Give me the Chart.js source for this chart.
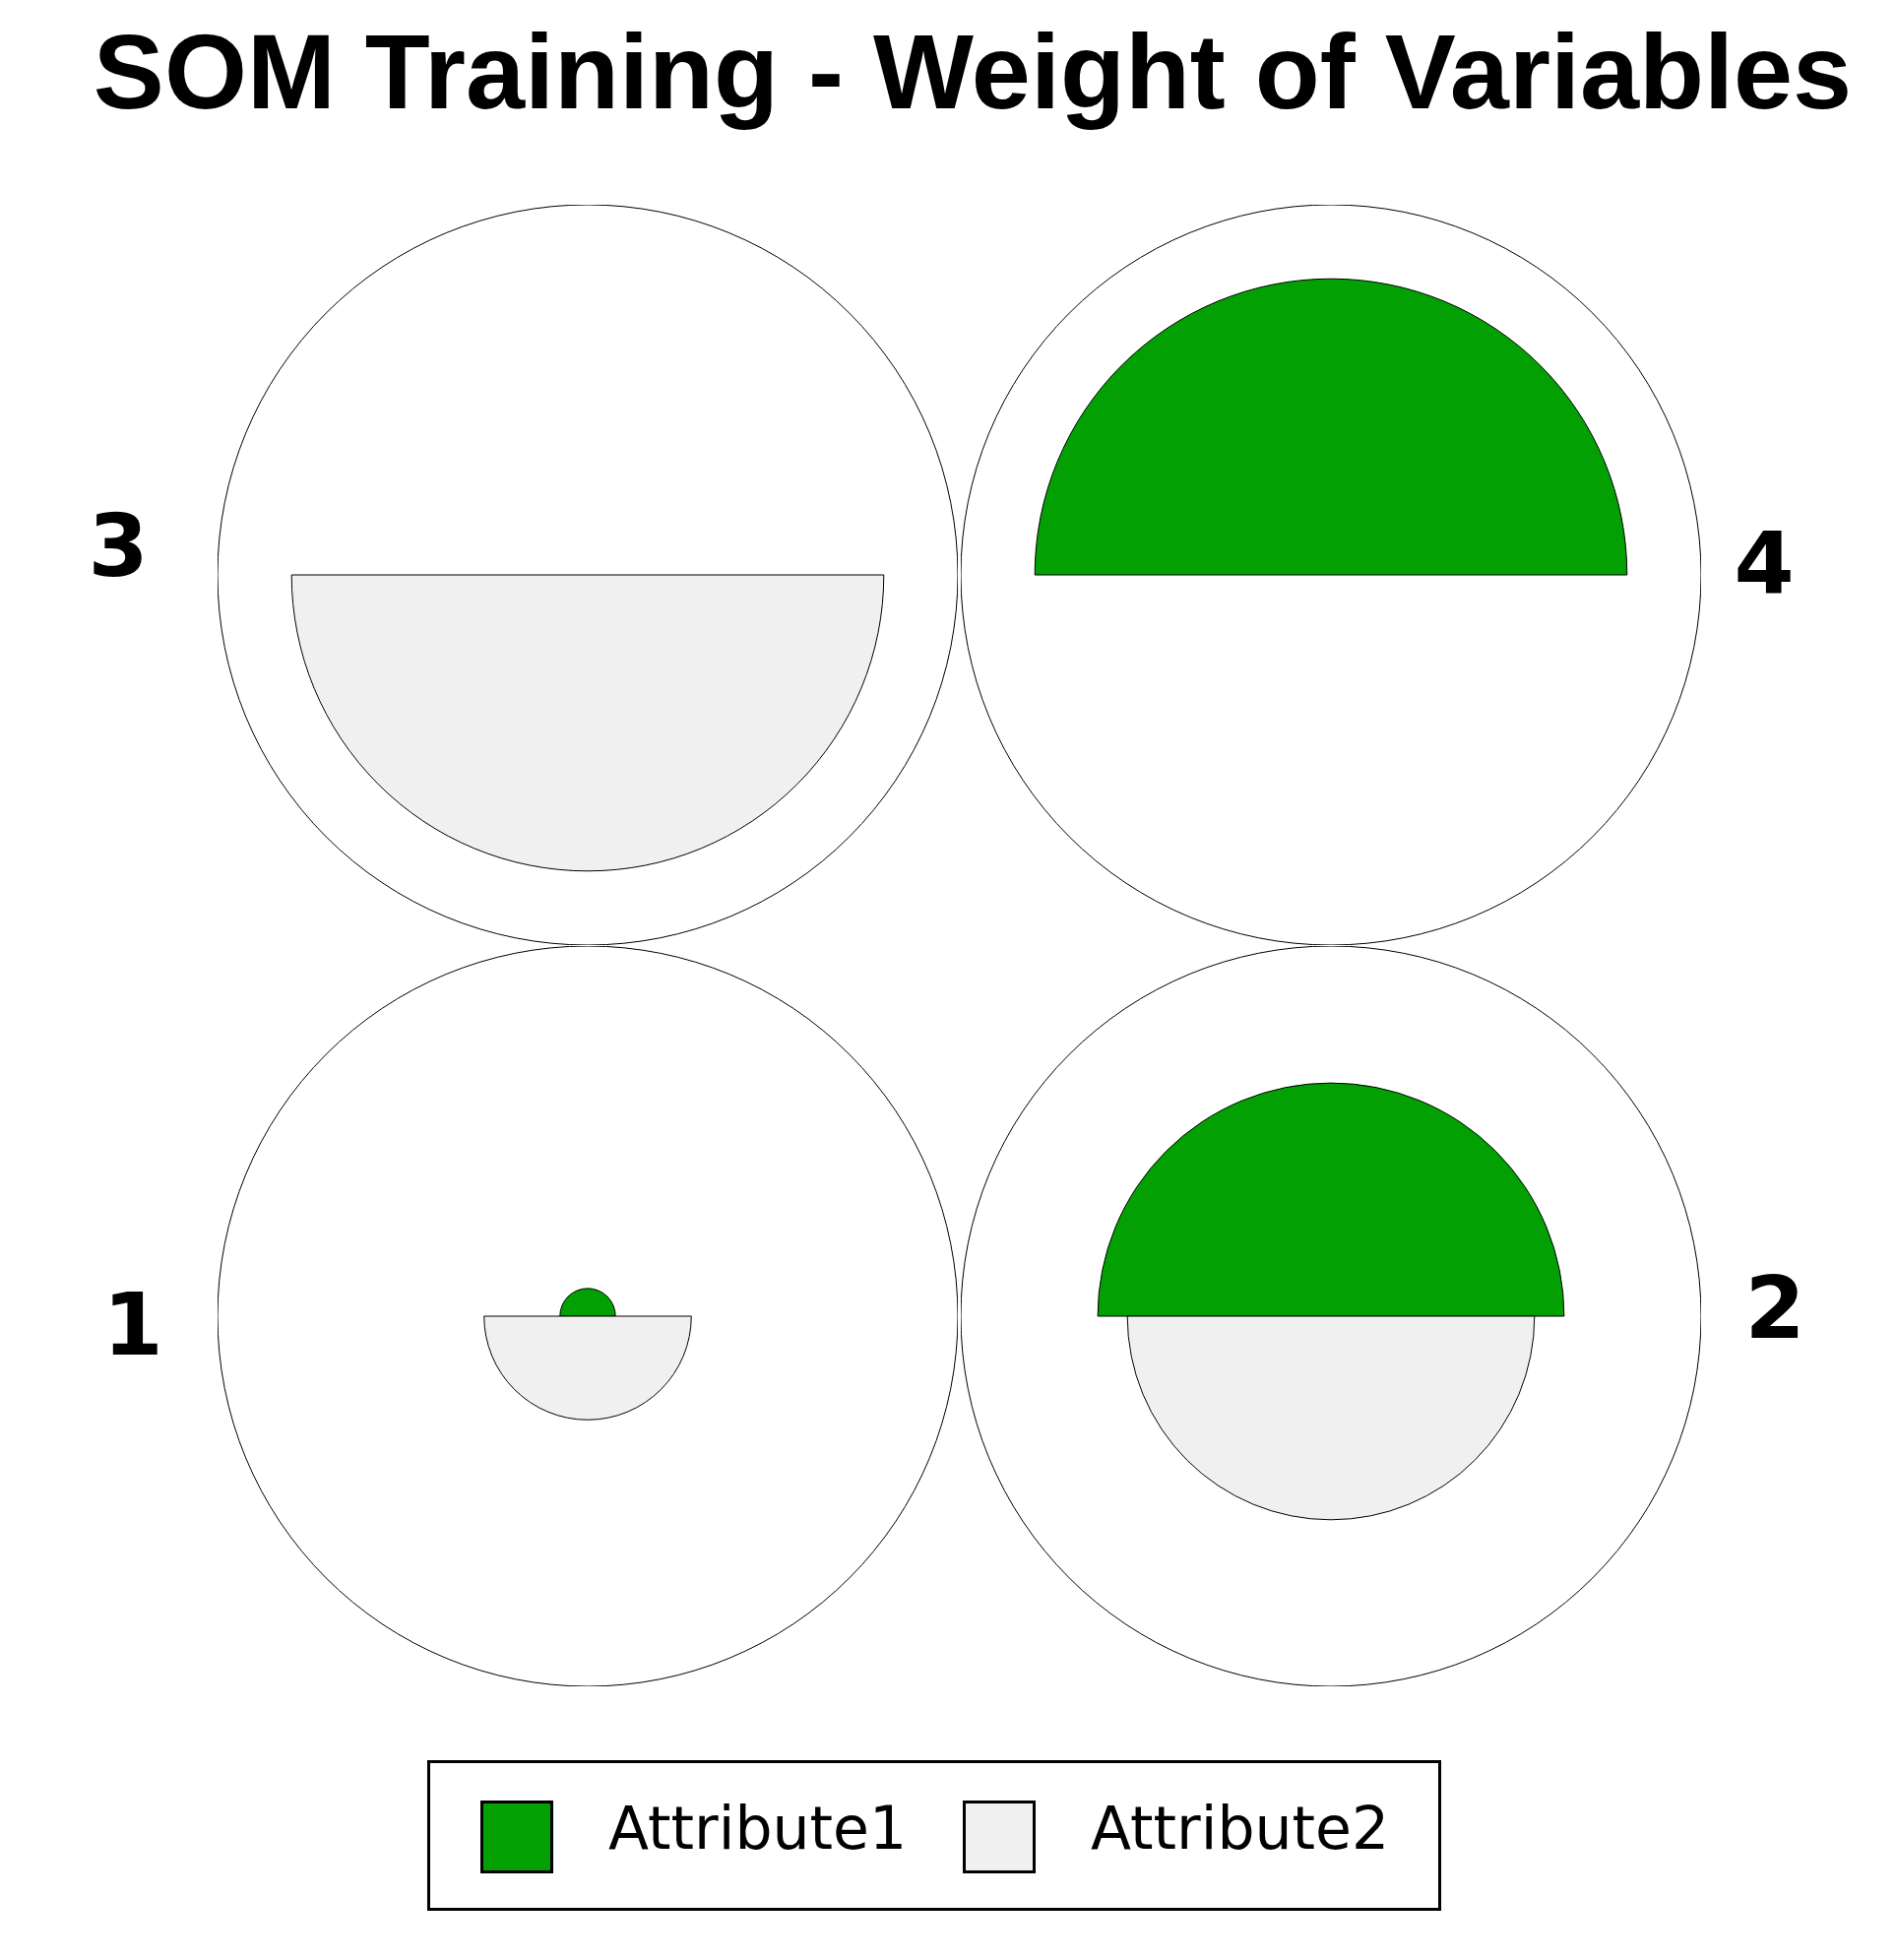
<!DOCTYPE html>
<html>
<head>
<meta charset="utf-8">
<script src="https://cdn.jsdelivr.net/npm/chart.js@4"></script>
<style>
  body { margin: 0; background: #fff; width: 1926px; height: 1991px; position: relative; overflow: hidden; }
  #title { position: absolute; left: 0; width: 1976px; top: 10px; text-align: center; font: bold 108px "Liberation Sans", Arial, sans-serif; color: #000; }
  .cell { position: absolute; width: 752px; height: 752px; }
  .num { position: absolute; font: bold 88px "DejaVu Sans", Verdana, sans-serif; color: #000; transform: translate(-50%, -50%); }
  #legend { position: absolute; left: 434px; top: 1788px; width: 1030px; height: 153px; border: 3px solid #000; box-sizing: border-box; }
  .sw { position: absolute; top: 38px; width: 74px; height: 74px; border: 3px solid #000; box-sizing: border-box; }
  .lt { position: absolute; top: 31px; font: 60px "DejaVu Sans", Verdana, sans-serif; color: #000; }
</style>
</head>
<body>
<div id="title">SOM Training - Weight of Variables</div>
<div id="legend"></div>
<script>
const attributes = ['Attribute1', 'Attribute2'];
const colors = ['#03a003', '#f0f0f0'];
const nodeIds = [1, 2, 3, 4];
// weights per node, as fraction of the node circle radius
const attribute1 = [0.075, 0.63, 0.0, 0.80];
const attribute2 = [0.28, 0.55, 0.80, 0.0];

// node layout: id -> grid position (col, row) ; row 0 = top
const nodeCol = [0, 1, 0, 1];
const nodeRow = [1, 1, 0, 0];

const centersX = [597, 1352];
const centersY = [584, 1337];
const labelPos = { 1: [135, 1345], 2: [1803, 1328], 3: [120, 554], 4: [1792, 572] };

nodeIds.forEach((id, i) => {
  const div = document.createElement('div');
  div.className = 'cell';
  div.style.left = (centersX[nodeCol[i]] - 376) + 'px';
  div.style.top = (centersY[nodeRow[i]] - 376) + 'px';
  const cv = document.createElement('canvas');
  div.appendChild(cv);
  document.body.appendChild(div);

  new Chart(cv, {
    type: 'polarArea',
    data: {
      labels: attributes,
      datasets: [{
        data: [attribute1[i], attribute2[i]],
        backgroundColor: colors,
        borderColor: '#000',
        borderWidth: 1
      }]
    },
    options: {
      responsive: true,
      maintainAspectRatio: true,
      animation: false,
      layout: { padding: 0 },
      plugins: { legend: { display: false }, tooltip: { enabled: false } },
      scales: {
        r: {
          startAngle: -90,
          min: 0, max: 1,
          ticks: { display: false, stepSize: 1 },
          angleLines: { display: false },
          pointLabels: { display: false },
          grid: { color: '#000', lineWidth: 1 }
        }
      }
    }
  });

  const lab = document.createElement('div');
  lab.className = 'num';
  lab.textContent = id;
  lab.style.left = labelPos[id][0] + 'px';
  lab.style.top = labelPos[id][1] + 'px';
  document.body.appendChild(lab);
});

const legend = document.getElementById('legend');
const swX = [51, 541];
const txX = [181, 671];
attributes.forEach((a, i) => {
  const sw = document.createElement('div');
  sw.className = 'sw';
  sw.style.left = swX[i] + 'px';
  sw.style.background = colors[i];
  legend.appendChild(sw);
  const t = document.createElement('div');
  t.className = 'lt';
  t.style.left = txX[i] + 'px';
  t.textContent = a;
  legend.appendChild(t);
});
</script>
</body>
</html>
